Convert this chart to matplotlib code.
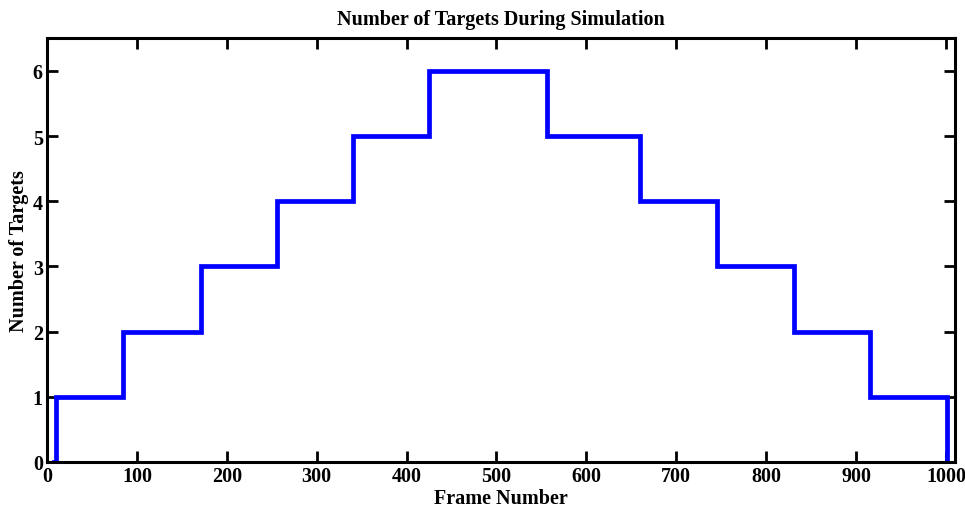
import matplotlib
matplotlib.use("Agg")
import matplotlib.pyplot as plt

# frames where target count changes, and the count after each change
change_frames = [8, 10, 85, 171, 256, 340, 425, 556, 660, 745, 831, 916, 1001]
target_counts = [0, 1, 2, 3, 4, 5, 6, 5, 4, 3, 2, 1, 0]

xticks = [0, 100, 200, 300, 400, 500, 600, 700, 800, 900, 1000]
yticks = [0, 1, 2, 3, 4, 5, 6]

plt.rcParams['font.family'] = ['Liberation Serif', 'DejaVu Serif']
plt.rcParams['font.weight'] = 'bold'

fig = plt.figure(figsize=(9.65, 5.1), dpi=100)
ax = fig.add_axes([0.0487, 0.0922, 0.9409, 0.8308])

ax.plot(change_frames, target_counts, drawstyle='steps-post', color='#0000ff', lw=3.4, solid_joinstyle='miter')

ax.set_xlim(0, 1010)
ax.set_ylim(0, 6.5)
ax.set_xticks(xticks)
ax.set_yticks(yticks)
ax.tick_params(direction='in', length=8, width=2, top=True, right=True, labelsize=14.5, pad=3)
for lab in ax.get_xticklabels() + ax.get_yticklabels():
    lab.set_fontweight('bold')
for s in ax.spines.values():
    s.set_linewidth(2.2)

ax.set_title('Number of Targets During Simulation', fontsize=14.5, fontweight='bold', pad=10)
ax.set_xlabel('Frame Number', fontsize=14.5, fontweight='bold', labelpad=1)
ax.set_ylabel('Number of Targets', fontsize=14.5, fontweight='bold', labelpad=3)

fig.savefig('out.png', dpi=100)
